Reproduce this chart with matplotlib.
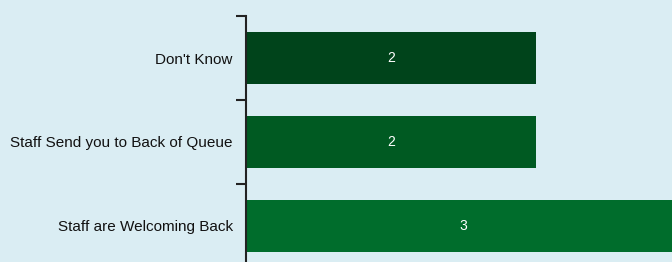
import matplotlib.pyplot as plt

categories = ["Don't Know", "Staff Send you to Back of Queue", "Staff are Welcoming Back"]
values = [2, 2, 3]
bar_colors = ["#00441b", "#005a22", "#006d2c"]

bg = "#daedf3"
plt.rcParams['font.family'] = ['Liberation Sans', 'DejaVu Sans']

fig = plt.figure(figsize=(6.72, 2.62), dpi=100, facecolor=bg)
ax = fig.add_axes([246 / 672, 1 - 268 / 262, 1 - 246 / 672, 252 / 262])
ax.set_facecolor(bg)

pos = list(range(len(categories)))
bars = ax.barh(pos, values, height=0.62, color=bar_colors)
for p, v in zip(pos, values):
    ax.text(v / 2, p, str(v), color='white', ha='center', va='center', fontsize=10)

ax.set_ylim(len(categories) - 0.5, -0.5)
ax.set_xlim(0, (672 - 246) / 145)

# boundaries as major ticks, category names as minor ticks
ax.set_yticks([p - 0.5 for p in pos] + [len(pos) - 0.5])
ax.set_yticklabels([])
ax.set_yticks(pos, minor=True)
ax.set_yticklabels(categories, minor=True, fontsize=11, color='#111111')
ax.tick_params(axis='y', which='major', length=7, width=1.5, color='#222222')
ax.tick_params(axis='y', which='minor', length=0, pad=9.5)
ax.set_xticks([])

for s in ['top', 'right', 'bottom']:
    ax.spines[s].set_visible(False)
ax.spines['left'].set_linewidth(1.5)
ax.spines['left'].set_color('#222222')

fig.savefig('out.png', dpi=100, facecolor=bg)
